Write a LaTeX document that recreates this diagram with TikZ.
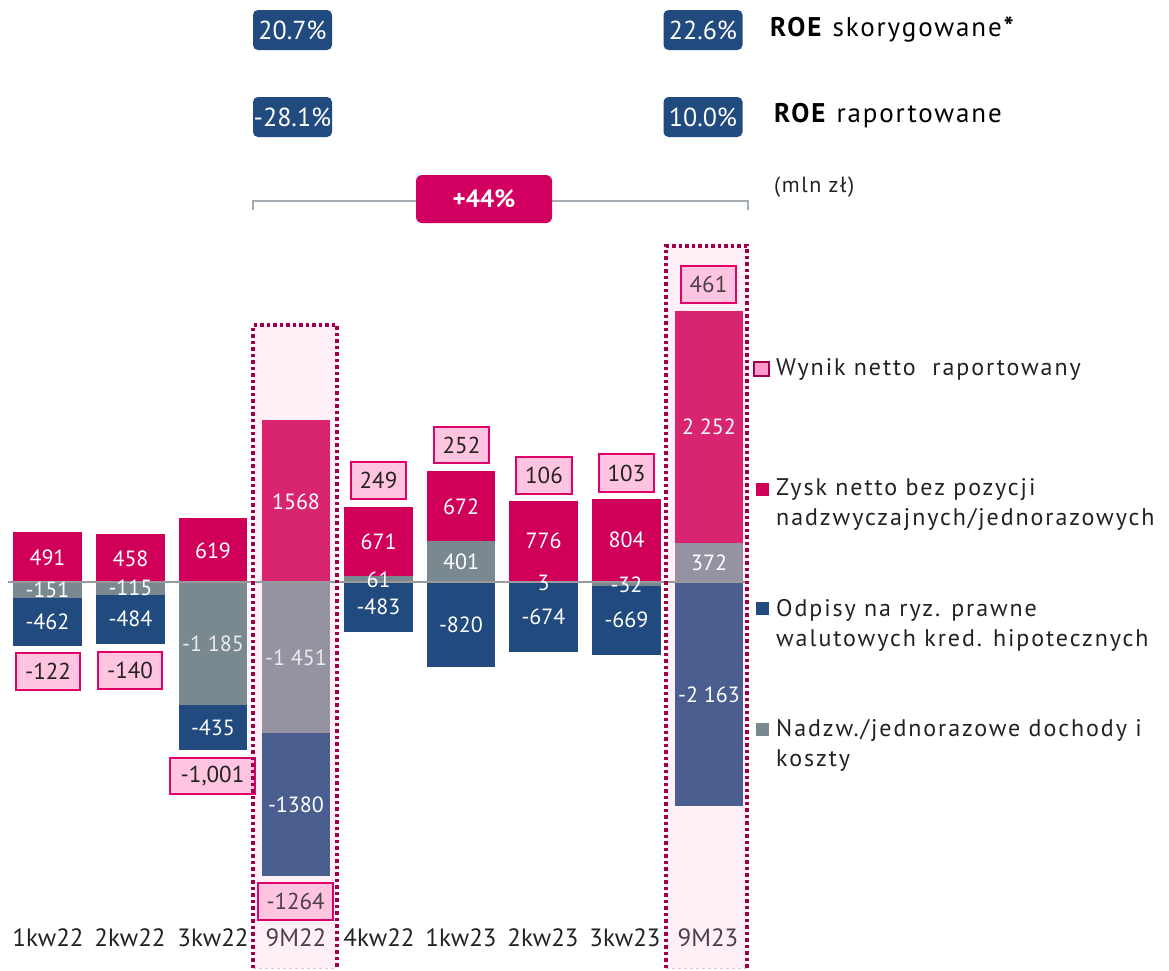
\documentclass[tikz,border=0pt]{standalone}
\usepackage{fontspec}
\setmainfont{PT Sans}
\newfontfamily\legfont[LetterSpace=8]{PT Sans}
\newfontfamily\roefont[LetterSpace=7]{PT Sans}
\definecolor{cred}{HTML}{D0005A}
\definecolor{cgray}{HTML}{7A8890}
\definecolor{cblue}{HTML}{214A7E}
\definecolor{mred}{HTML}{D9256F}
\definecolor{mgray}{HTML}{9593A2}
\definecolor{mblue}{HTML}{4A5F8F}
\definecolor{lblfill}{HTML}{FFC4E0}
\definecolor{lbldraw}{HTML}{E0006A}
\definecolor{frameC}{HTML}{9E004E}
\definecolor{frameFill}{HTML}{FFF0F7}
\definecolor{roeblue}{HTML}{214A7E}
\definecolor{mag}{HTML}{D10060}
\definecolor{zline}{HTML}{9A9A9A}
\definecolor{brk}{HTML}{A5ADB3}
\definecolor{txt}{HTML}{222222}
\definecolor{txtm}{HTML}{4A4048}
\definecolor{legpink}{HTML}{FF99CC}
\tikzset{
  val/.style={text=white, font=\fontsize{22}{24}\selectfont, inner sep=0pt},
  lblbox/.style={draw=lbldraw, fill=lblfill, line width=2pt, text=txt, font=\fontsize{23}{25}\selectfont, inner sep=0pt, minimum height=37pt},
  cat/.style={text=txt, font=\fontsize{25}{27}\selectfont, inner sep=0pt},
  roebox/.style={fill=roeblue, rounded corners=5pt, text=white, font=\fontsize{26}{28}\selectfont, minimum width=79pt, minimum height=40pt, inner sep=0pt},
  roetext/.style={text=black, font=\roefont\fontsize{27}{29}\selectfont, anchor=west, inner sep=0pt},
  leg/.style={text=txt, font=\legfont\fontsize{24}{30}\selectfont, anchor=west, align=left, inner sep=0pt},
  legmark/.style={inner sep=0pt, minimum width=13pt, minimum height=13pt},
  dotline/.style={draw=frameC, line width=3.5pt, dash pattern=on 3.5pt off 3pt},
}
\begin{document}
\begin{tikzpicture}[x=1pt,y=-1pt]
\useasboundingbox (0,0) rectangle (1169,970);
% highlight frames (fill)
\fill[frameFill] (253,325) rectangle (337,968);
\fill[frameFill] (666,246) rectangle (747,968);
\draw[draw=frameC!25, line width=1pt, dashed] (253,968) -- (337,968);
\draw[draw=frameC!25, line width=1pt, dashed] (666,968) -- (747,968);
% bars
% 1kw22
\fill[cred] (13,532) rectangle (82,582);
\fill[cgray] (13,582) rectangle (82,598);
\fill[cblue] (13,598) rectangle (82,646);
% 2kw22
\fill[cred] (96,534) rectangle (165,582);
\fill[cgray] (96,582) rectangle (165,595);
\fill[cblue] (96,595) rectangle (165,644);
% 3kw22
\fill[cred] (179,518) rectangle (247,582);
\fill[cgray] (179,582) rectangle (247,705);
\fill[cblue] (179,705) rectangle (247,750);
% 9M22
\fill[mred] (262,420) rectangle (330,582);
\fill[mgray] (262,582) rectangle (330,733);
\fill[mblue] (262,733) rectangle (330,876);
% 4kw22
\fill[cred] (344,507) rectangle (413,576);
\fill[cgray] (344,576) rectangle (413,582);
\fill[cblue] (344,582) rectangle (413,632);
% 1kw23
\fill[cred] (427,471) rectangle (495,541);
\fill[cgray] (427,541) rectangle (495,582);
\fill[cblue] (427,582) rectangle (495,667);
% 2kw23
\fill[cred] (509,501) rectangle (578,582);
\fill[cblue] (509,582) rectangle (578,652);
% 3kw23
\fill[cred] (592,499) rectangle (661,582);
\fill[cgray] (592,582) rectangle (661,586);
\fill[cblue] (592,586) rectangle (661,655);
% 9M23
\fill[mred] (675,311) rectangle (743,543);
\fill[mgray] (675,543) rectangle (743,582);
\fill[mblue] (675,582) rectangle (743,806);
% zero line
\coordinate (z0) at (8,582);
\coordinate (z1) at (748,582);
\draw[zline, line width=2pt] (z0) -- (z1);
% values in bars
\node[val] (a1) at (47.5,558) {491};
\node[val] (b1) at (47.5,590) {-151};
\node[val] (c1) at (47.5,622) {-462};
\node[val] (a2) at (130.5,559) {458};
\node[val] (b2) at (130.5,588) {-115};
\node[val] (c2) at (130.5,619) {-484};
\node[val] (a3) at (213,551) {619};
\node[val, text=white!92!black] (b3) at (213,644) {-1 185};
\node[val] (c3) at (213,728) {-435};
\node[val] (a4) at (296,502) {1568};
\node[val, text=white!92!black] (b4) at (296,658) {-1 451};
\node[val] (c4) at (296,805) {-1380};
\node[val] (a5) at (378.5,542) {671};
\node[val] (b5) at (378.5,580) {61};
\node[val] (c5) at (378.5,607) {-483};
\node[val] (a6) at (461,507) {672};
\node[val] (b6) at (461,562) {401};
\node[val] (c6) at (461,625) {-820};
\node[val] (a7) at (543.5,541) {776};
\node[val] (b7) at (543.5,583) {3};
\node[val] (c7) at (543.5,617) {-674};
\node[val] (a8) at (626.5,540) {804};
\node[val] (b8) at (626.5,585) {-32};
\node[val] (c8) at (626.5,620) {-669};
\node[val] (a9) at (709,427) {2 252};
\node[val] (b9) at (709,563) {372};
\node[val] (c9) at (709,695) {-2 163};
% net result boxes
\node[lblbox, minimum width=64pt] (n1) at (48,671.5) {-122};
\node[lblbox, minimum width=64pt] (n2) at (130,670.5) {-140};
\node[lblbox, minimum width=85pt, minimum height=36pt] (n3) at (212.5,776) {-1,001};
\node[lblbox, minimum width=75pt, text=txtm] (n4) at (295.5,901.5) {-1264};
\node[lblbox, minimum width=55pt] (n5) at (378.5,480.5) {249};
\node[lblbox, minimum width=55pt, minimum height=36pt] (n6) at (461.5,445) {252};
\node[lblbox, minimum width=56pt] (n7) at (544,475.5) {106};
\node[lblbox, minimum width=55pt, minimum height=38pt] (n8) at (626.5,473) {103};
\node[lblbox, minimum width=55pt, text=txtm] (n9) at (708.5,284.5) {461};
% dotted frames
\draw[dotline] (253,968) -- (253,325) -- (337,325) -- (337,968);
\draw[dotline] (666,968) -- (666,246) -- (747,246) -- (747,968);
% category labels
\node[cat] (k1) at (48,938) {1kw22};
\node[cat] (k2) at (130,938) {2kw22};
\node[cat] (k3) at (213,938) {3kw22};
\node[cat, text=txtm] (k4) at (296,938) {9M22};
\node[cat] (k5) at (379,938) {4kw22};
\node[cat] (k6) at (461,938) {1kw23};
\node[cat] (k7) at (543,938) {2kw23};
\node[cat] (k8) at (625,938) {3kw23};
\node[cat, text=txtm] (k9) at (708,938) {9M23};
% ROE boxes
\node[roebox] (r1) at (292.5,30) {20.7\%};
\node[roebox] (r2) at (703,30) {22.6\%};
\node[roebox] (r3) at (292.5,117) {-28.1\%};
\node[roebox] (r4) at (703,117) {10.0\%};
\node[roetext] (t1) at (770,29) {\textbf{ROE} skorygowane\textbf{*}};
\node[roetext] (t2) at (774,116) {\textbf{ROE} raportowane};
\node[text=txt, font=\roefont\fontsize{22}{24}\selectfont, anchor=west, inner sep=0pt] (t3) at (774,187) {(mln zł)};
% +44% bracket
\coordinate (bl) at (253,210);
\coordinate (br) at (748,210);
\draw[brk, line width=2pt] (bl) -- (253,201) -- (748,201) -- (br);
\node[fill=mag, rounded corners=6pt, text=white, font=\bfseries\fontsize{25}{27}\selectfont, minimum width=136pt, minimum height=48pt, inner sep=0pt] (g) at (484,199) {+44\%};
% legend
\node[legmark, draw=frameC, line width=1.5pt, fill=legpink, minimum width=15pt, minimum height=14pt] (m1) at (761.5,369) {};
\node[leg] (l1) at (776,369) {Wynik netto\ \ raportowany};
\node[legmark, fill=cred] (m2) at (762.5,489) {};
\node[leg] (l2) at (776,504.5) {Zysk netto bez pozycji\\nadzwyczajnych/jednorazowych};
\node[legmark, fill=cblue] (m3) at (762.5,608.5) {};
\node[leg] (l3) at (776,625) {Odpisy na ryz. prawne\\walutowych kred. hipotecznych};
\node[legmark, fill=cgray] (m4) at (762.5,729) {};
\node[leg] (l4) at (776,745) {Nadzw./jednorazowe dochody i\\koszty};
\end{tikzpicture}
\end{document}
